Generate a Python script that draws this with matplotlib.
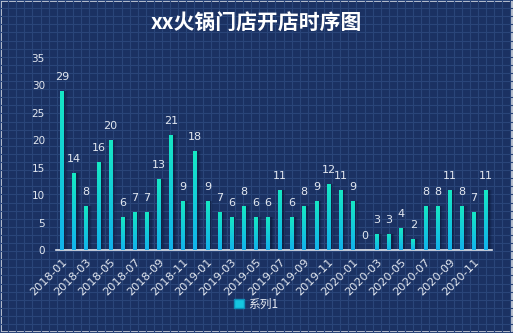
import matplotlib
matplotlib.use("Agg")
import matplotlib.pyplot as plt
import numpy as np
from matplotlib.patches import Rectangle
from matplotlib.colors import LinearSegmentedColormap

plt.rcParams['font.family'] = ['Noto Sans CJK SC', 'DejaVu Sans']

BG = "#1b3162"; GRID = "#2a4579"; TXT = "#e3e8f0"
TOP = "#16e8c4"; BOT = "#12b2ec"

months = ["2018-01", "2018-02", "2018-03", "2018-04", "2018-05", "2018-06",
          "2018-07", "2018-08", "2018-09", "2018-10", "2018-11", "2018-12",
          "2019-01", "2019-02", "2019-03", "2019-04", "2019-05", "2019-06",
          "2019-07", "2019-08", "2019-09", "2019-10", "2019-11", "2019-12",
          "2020-01", "2020-02", "2020-03", "2020-04", "2020-05", "2020-06",
          "2020-07", "2020-08", "2020-09", "2020-10", "2020-11", "2020-12"]
counts = [29, 14, 8, 16, 20, 6, 7, 7, 13, 21, 9, 18,
          9, 7, 6, 8, 6, 6, 11, 6, 8, 9, 12, 11,
          9, 0, 3, 3, 4, 2, 8, 8, 11, 8, 7, 11]
series_name = "系列1"
title = "xx火锅门店开店时序图"

W, H = 513, 333
fig = plt.figure(figsize=(W/100, H/100), dpi=100)
fig.patch.set_facecolor(BG)

# blueprint grid in background
bg = fig.add_axes([0, 0, 1, 1], zorder=-5)
bg.set_xlim(0, W); bg.set_ylim(H, 0); bg.axis("off")
bg.add_patch(Rectangle((0, 0), W, H, fc=BG, ec="none"))
for g in np.arange(0, W, 8.1):
    bg.axvline(g, color=GRID, lw=0.8)
for g in np.arange(0, H, 8.1):
    bg.axhline(g, color=GRID, lw=0.8)
bg.add_patch(Rectangle((0.5, 0.5), W-1.5, H-1.5, fc="none", ec="#d8dde5", lw=1.2))

ax = fig.add_axes([56/W, 1-250/H, 436/W, 192/H])
ax.set_facecolor("none")
x = np.arange(len(counts))

# shadows
for xi, v in zip(x, counts):
    for k, a in enumerate([0.35, 0.22, 0.12]):
        ax.add_patch(Rectangle((xi-0.05+k*0.1, 0), 0.35, v, fc="#0a1633", ec="none",
                               alpha=a, zorder=1))

bars = ax.bar(x, counts, width=0.3, color=BOT, zorder=2)
cmap = LinearSegmentedColormap.from_list("g", [BOT, TOP])
grad = np.linspace(0, 1, 64).reshape(-1, 1)
for b in bars:
    if b.get_height() <= 0:
        continue
    x0, w, h = b.get_x(), b.get_width(), b.get_height()
    im = ax.imshow(grad, cmap=cmap, origin="lower", aspect="auto",
                   extent=(x0, x0+w, 0, h), zorder=3)
    im.set_clip_path(b)
ax.set_xlim(-0.5, len(counts)-0.5)
ax.set_ylim(0, 35)

for xi, v in zip(x, counts):
    ax.annotate(str(v), (xi, v), xytext=(0, 10), textcoords="offset points",
                ha="center", va="center", color=TXT, fontsize=8, family="DejaVu Sans")

for s in ["top", "right", "left"]:
    ax.spines[s].set_visible(False)
ax.spines["bottom"].set_color("#dfe4ec")
ax.spines["bottom"].set_linewidth(1.2)
ax.set_yticks(range(0, 36, 5))
ax.tick_params(axis="y", length=0, colors=TXT, labelsize=7.5, pad=8)
ax.set_xticks(x[::2])
ax.set_xticklabels(months[::2], rotation=45, ha="right", rotation_mode="anchor",
                   fontsize=8.2, color=TXT, family="DejaVu Sans")
ax.tick_params(axis="x", length=0, pad=5)
for lab in ax.get_yticklabels():
    lab.set_family("DejaVu Sans")

fig.text(0.5, 1-23/H, title, ha="center", va="center", color="white",
         fontsize=15, fontweight="bold")

leg = fig.legend([Rectangle((0, 0), 1, 1, fc="#15c6e0", ec="#0e8fb8")], [series_name],
                 loc="center", bbox_to_anchor=(0.5, 1-304/H), frameon=False,
                 handlelength=0.8, handleheight=0.8, handletextpad=0.4, fontsize=8.5)
for t in leg.get_texts():
    t.set_color(TXT)

fig.savefig("out.png", dpi=100, facecolor=BG)
